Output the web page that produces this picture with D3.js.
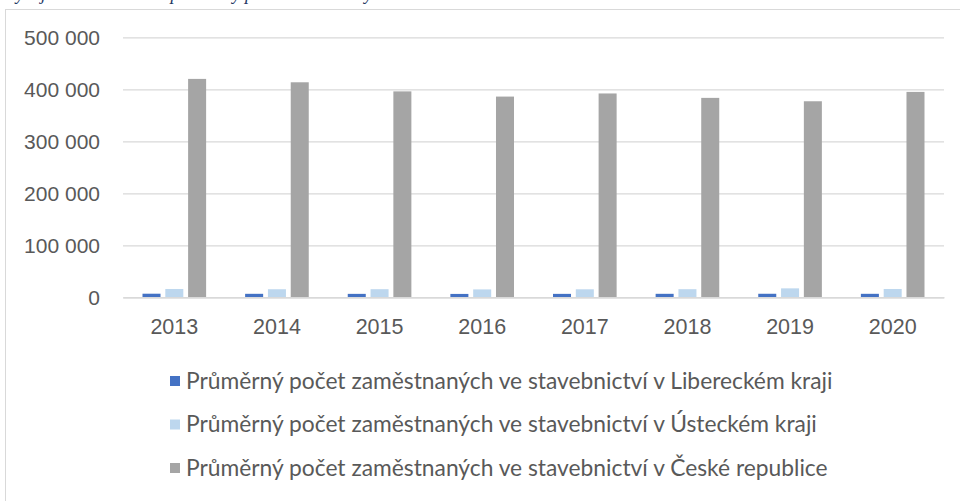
<!DOCTYPE html>
<html lang="cs">
<head>
<meta charset="utf-8">
<title>Zaměstnanost ve stavebnictví</title>
<script src="https://cdn.jsdelivr.net/npm/d3@7"></script>
<style>
  html, body { margin: 0; padding: 0; background: #fff; }
  svg { display: block; font-family: "Lato", "Open Sans", sans-serif; }
  .tick text { fill: #595959; }
</style>
</head>
<body>
<script>
// roky
const years = ["2013", "2014", "2015", "2016", "2017", "2018", "2019", "2020"];

// serie (prumerny pocet zamestnanych)
const seriesNames = [
  "Průměrný počet zaměstnaných ve stavebnictví v Libereckém kraji",
  "Průměrný počet zaměstnaných ve stavebnictví v Ústeckém kraji",
  "Průměrný počet zaměstnaných ve stavebnictví v České republice"
];
const liberecky = [6900, 6700, 6600, 6500, 6600, 6700, 6800, 6700];
const ustecky = [16000, 15500, 15600, 15200, 15400, 15600, 17200, 16000];
const cr = [420000, 413500, 396000, 386000, 392000, 383500, 377000, 395000];
const colors = ["#4472C4", "#BDD7EE", "#A5A5A5"];

const yTicks = [0, 100000, 200000, 300000, 400000, 500000];

let w = 960, h = 501;
let mLeft = 123, mRight = 944, mTop = 37.3, mBottom = 297.3;

let svg = d3.select("body").append("svg")
  .attr("width", w)
  .attr("height", h);

// cast titulku nad grafem (v predloze oriznuta hornim okrajem)
svg.append("text")
  .attr("x", 5)
  .attr("y", 0)
  .style("font-family", "'Liberation Serif', serif")
  .style("font-style", "italic")
  .style("font-size", "18px")
  .attr("fill", "#1f3864")
  .text("Vývoj zaměstnanosti – průměrný počet zaměstnaných ve stavebnictví");

// ramecek grafu
svg.append("rect")
  .attr("x", 5.5)
  .attr("y", 9.5)
  .attr("width", 1000)
  .attr("height", 600)
  .attr("fill", "none")
  .attr("stroke", "#d9d9d9")
  .attr("stroke-width", 1);

let data = years.map((y, i) => ({ year: y, values: [liberecky[i], ustecky[i], cr[i]] }));

let x0 = d3.scaleBand()
  .domain(years)
  .range([mLeft, mRight])
  .paddingInner(0.38)
  .paddingOuter(0.19);

let x1 = d3.scaleBand()
  .domain([0, 1, 2])
  .range([0, x0.bandwidth()])
  .paddingInner(0.21);

let yScale = d3.scaleLinear()
  .domain([0, 500000])
  .range([mBottom, mTop]);

let fmt = v => d3.format(",")(v).replace(/,/g, " ");

// mrizka + osa y
let yAxis = d3.axisLeft(yScale)
  .tickValues(yTicks)
  .tickSize(-(mRight - mLeft))
  .tickPadding(23)
  .tickFormat(fmt);

svg.append("g")
  .attr("transform", "translate(" + mLeft + ",0)")
  .call(yAxis)
  .call(g => g.select(".domain").remove())
  .call(g => g.selectAll(".tick line").attr("stroke", "#d9d9d9").attr("stroke-width", 1.2))
  .call(g => g.selectAll(".tick text").style("font-size", "21px"));

// sloupce
let groups = svg.append("g").selectAll("g")
  .data(data)
  .enter()
  .append("g")
  .attr("transform", d => "translate(" + x0(d.year) + ",0)");

groups.selectAll("rect")
  .data(d => d.values)
  .enter()
  .append("rect")
  .attr("x", (d, i) => x1(i))
  .attr("width", x1.bandwidth())
  .attr("y", d => yScale(d))
  .attr("height", d => yScale(0) - yScale(d))
  .attr("fill", (d, i) => colors[i]);

// osa x
let xAxis = d3.axisBottom(x0).tickSize(0).tickPadding(21);
svg.append("g")
  .attr("transform", "translate(0," + mBottom + ")")
  .call(xAxis)
  .call(g => g.select(".domain").attr("stroke", "#d9d9d9").attr("stroke-width", 1.5))
  .call(g => g.selectAll(".tick text").style("font-size", "21.5px"));

// legenda
let legend = svg.append("g").selectAll("g")
  .data(seriesNames)
  .enter()
  .append("g")
  .attr("transform", (d, i) => "translate(170," + (381 + i * 43.5) + ")");

legend.append("rect")
  .attr("x", 0)
  .attr("y", -5)
  .attr("width", 10)
  .attr("height", 10)
  .attr("fill", (d, i) => colors[i]);

legend.append("text")
  .attr("x", 16)
  .attr("dy", "0.35em")
  .attr("fill", "#595959")
  .style("font-size", "22.8px")
  .text(d => d);
</script>
</body>
</html>
